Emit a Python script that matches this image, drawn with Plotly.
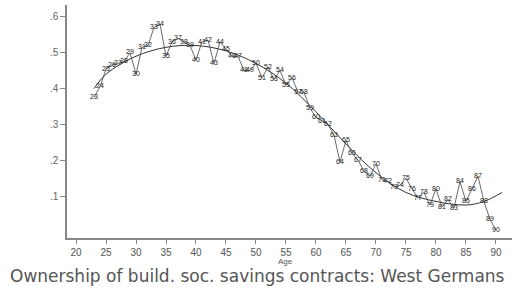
import plotly.graph_objects as go

ages = list(range(23, 91))
share = [0.375, 0.405, 0.455, 0.465, 0.47, 0.475, 0.50, 0.44, 0.515, 0.52,
         0.57, 0.58, 0.49, 0.53, 0.54, 0.53, 0.52, 0.48, 0.53, 0.535,
         0.47, 0.53, 0.51, 0.49, 0.49, 0.45, 0.45, 0.47, 0.43, 0.46,
         0.425, 0.45, 0.41, 0.43, 0.39, 0.39, 0.345, 0.32, 0.31, 0.30,
         0.27, 0.195, 0.255, 0.22, 0.20, 0.17, 0.155, 0.19, 0.145, 0.14,
         0.125, 0.13, 0.15, 0.12, 0.095, 0.11, 0.075, 0.12, 0.07, 0.09,
         0.067, 0.14, 0.085, 0.12, 0.155, 0.085, 0.035, 0.005]
labels = [str(a) for a in ages]

fit_ages = [23, 25, 30, 35, 40, 45, 50, 55, 60, 65, 70, 75, 80, 85, 88, 91]
fit_vals = [0.40, 0.44, 0.49, 0.515, 0.52, 0.505, 0.47, 0.415, 0.335, 0.245,
            0.165, 0.11, 0.085, 0.075, 0.085, 0.11]

x_ticks = list(range(20, 95, 5))
y_ticks = [0.1, 0.2, 0.3, 0.4, 0.5, 0.6]
y_tick_text = [".1", ".2", ".3", ".4", ".5", ".6"]

fig = go.Figure()
fig.add_trace(go.Scatter(x=fit_ages, y=fit_vals, mode="lines",
                         line=dict(color="#333333", width=1, shape="spline"),
                         hoverinfo="skip"))
fig.add_trace(go.Scatter(x=ages, y=share, mode="lines+text", text=labels,
                         textposition="middle center",
                         textfont=dict(size=7, color="#222222", family="Liberation Sans"),
                         line=dict(color="#444444", width=0.8)))

fig.update_layout(
    width=513, height=288,
    margin=dict(l=67, r=1, t=5, b=50, autoexpand=False),
    paper_bgcolor="white", plot_bgcolor="white",
    showlegend=False,
    font=dict(family="Liberation Sans", color="#555555"),
    xaxis=dict(range=[18.5, 92.67], tickvals=x_ticks, ticks="outside",
               ticklen=4, tickcolor="#888888", showgrid=False, zeroline=False,
               showline=True, linecolor="#888888", linewidth=1.5, automargin=False,
               tickfont=dict(size=10, color="#555555")),
    yaxis=dict(range=[-0.017, 0.633], tickvals=y_ticks, ticktext=y_tick_text,
               ticks="outside", ticklen=5, tickcolor="#888888", showgrid=False,
               zeroline=False, showline=True, linecolor="#888888", linewidth=1.5,
               automargin=False, tickfont=dict(size=10, color="#666666")),
)
fig.add_annotation(text="Age", xref="paper", yref="paper", x=0.49, y=-0.103,
                   xanchor="center", yanchor="middle", showarrow=False,
                   font=dict(size=8, color="#555555", family="Liberation Sans"))
fig.add_annotation(text="Ownership of build. soc. savings contracts: West Germans",
                   xref="paper", yref="paper", x=0.427, y=-0.165, xanchor="center",
                   yanchor="middle", showarrow=False,
                   font=dict(size=17, color="#555555", family="DejaVu Sans"))
fig.write_html("out.html", config={"displayModeBar": False},
               post_script="document.body.style.margin='0';document.body.style.overflow='hidden';")
